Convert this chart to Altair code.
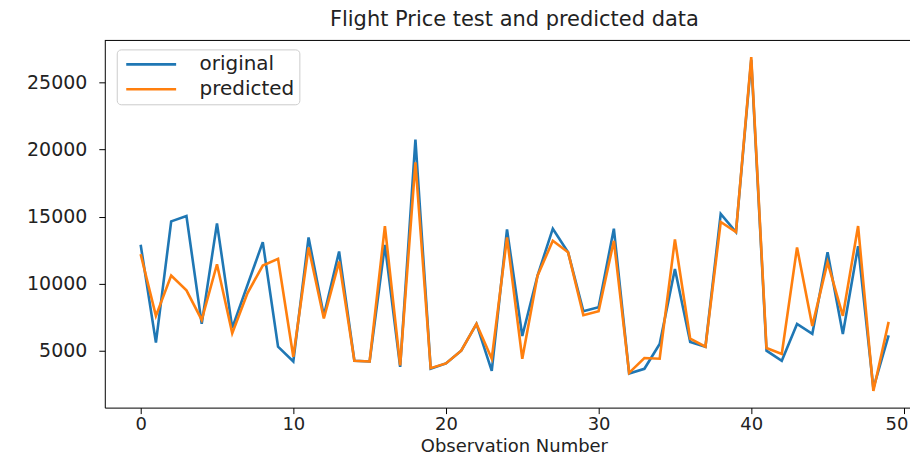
import altair as alt
import pandas as pd

# ---- data ----
obs = list(range(50))
original = [12900, 5600, 14650, 15050, 7000, 14500, 6700, 9900, 13100, 5300,
            4200, 13450, 7600, 12400, 4250, 4200, 12900, 3800, 20750, 3650,
            4050, 5000, 7000, 3500, 14050, 6100, 10600, 14100, 12350, 7950,
            8250, 14100, 3300, 3650, 5500, 11100, 5650, 5300, 15200, 13850,
            26700, 5000, 4250, 7000, 6250, 12350, 6250, 12800, 2200, 6150]
predicted = [12200, 7600, 10600, 9500, 7300, 11450, 6300, 9300, 11350, 11850,
             4550, 12700, 7400, 11650, 4250, 4200, 14300, 3900, 19050, 3700,
             4050, 5000, 7000, 4400, 13450, 4400, 10600, 13200, 12350, 7650,
             7950, 13200, 3350, 4450, 4400, 13300, 5900, 5300, 14600, 13850,
             26900, 5200, 4750, 12700, 6850, 11600, 7600, 14300, 2000, 7150]
series_names = ["original", "predicted"]
series_colors = ["#1f77b4", "#ff7f0e"]
x_ticks = [0, 10, 20, 30, 40, 50]
y_ticks = [5000, 10000, 15000, 20000, 25000]
title_text = "Flight Price test and predicted data"
x_title = "Observation Number"

df = pd.DataFrame({
    "obs": obs + obs,
    "price": original + predicted,
    "series": [series_names[0]] * len(obs) + [series_names[1]] * len(obs),
})

W, H = 807, 368
FONT = "DejaVu Sans"
last_tick = x_ticks[-1]

lines = alt.Chart(df).mark_line(strokeWidth=2.6).encode(
    x=alt.X("obs:Q",
            scale=alt.Scale(domain=[-2.35, 50.4], nice=False, zero=False),
            axis=alt.Axis(values=x_ticks, title=x_title, labelPadding=2, labelFontSize=18,
                          labelAlign={"condition": {"test": f"datum.value == {last_tick}",
                                                    "value": "right"},
                                      "value": "center"},
                          labelOffset={"condition": {"test": f"datum.value == {last_tick}",
                                                     "value": 4},
                                       "value": 0},
                          titleFontSize=18,
                          titleX=410, titleY=44, titleBaseline="alphabetic",
                          titleAnchor="middle")),
    y=alt.Y("price:Q",
            scale=alt.Scale(domain=[755, 28145], nice=False, zero=False),
            axis=alt.Axis(values=y_ticks, format="d", title=None, labelPadding=12)),
    color=alt.Color("series:N",
                    scale=alt.Scale(domain=series_names, range=series_colors),
                    legend=alt.Legend(title=None, orient="none", legendX=12, legendY=9,
                                      symbolType="stroke", symbolSize=2500,
                                      symbolStrokeWidth=2.6, symbolOffset=3,
                                      clipHeight=20, rowPadding=5, padding=5,
                                      labelFontSize=20, labelFont=FONT,
                                      labelColor="#222222", labelOffset=22,
                                      fillColor="white", strokeColor="#cccccc",
                                      cornerRadius=4)),
    detail="series:N",
)

top_rule = alt.Chart(pd.DataFrame({"a": [0]})).mark_rule(color="black", strokeWidth=1).encode(
    x=alt.value(0), x2=alt.value(W), y=alt.value(0)
)

chart = alt.layer(lines, top_rule).properties(
    width=W, height=H,
    title=alt.TitleParams(title_text, fontSize=21, font=FONT, fontWeight="normal",
                          color="#222222", anchor="middle", dx=7, offset=10),
    autosize=alt.AutoSizeParams(type="none"),
    padding={"left": 97, "top": 32, "right": 0, "bottom": 48},
).configure_view(stroke=None).configure_axis(
    grid=False, domainColor="black", tickColor="black", tickSize=6,
    labelFont=FONT, labelFontSize=19, labelColor="#222222",
    titleFont=FONT, titleFontSize=19, titleFontWeight="normal", titleColor="#222222",
)

chart.save("out.html", embed_options={"renderer": "svg", "actions": False})
